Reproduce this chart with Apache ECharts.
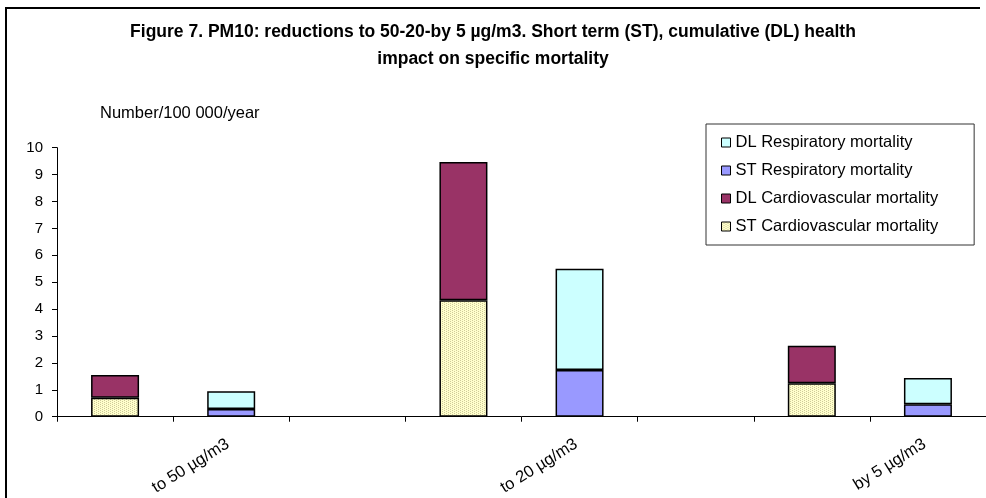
<!DOCTYPE html>
<html>
<head>
<meta charset="utf-8">
<script src="https://cdn.jsdelivr.net/npm/echarts@6/dist/echarts.min.js"></script>
<style>
  html, body { margin: 0; padding: 0; background: #fff; overflow: hidden; }
  #wrap { position: relative; width: 986px; height: 498px; overflow: hidden; }
  #chart { width: 986px; height: 498px; }
  /* chart area frame: left and top edges */
  #frameTop { position: absolute; left: 5px; top: 7px; width: 975px; height: 2px; background: #000; }
  #frameLeft { position: absolute; left: 5px; top: 7px; width: 2px; height: 491px; background: #000; }
</style>
</head>
<body>
<div id="wrap">
  <div id="chart"></div>
  <div id="frameTop"></div>
  <div id="frameLeft"></div>
</div>
<script>
// 8 slots on the category axis, labels only under the respiratory bar of each group
var categories = ['', 'to 50 µg/m3', '', '', 'to 20 µg/m3', '', '', 'by 5 µg/m3']
var stCardio = [0.71, '-', '-', 4.33, '-', '-', 1.24, '-']
var dlCardio = [0.84, '-', '-', 5.14, '-', '-', 1.40, '-']
var stResp = ['-', 0.29, '-', '-', 1.74, '-', '-', 0.46]
var dlResp = ['-', 0.66, '-', '-', 3.76, '-', '-', 0.98]

var font = "'Liberation Sans', Arial, sans-serif"

// dotted pale yellow fill like the excel pattern
function dotPattern() {
  var c = document.createElement('canvas')
  c.width = 4
  c.height = 2
  var ctx = c.getContext('2d')
  ctx.fillStyle = '#FFFFCC'
  ctx.fillRect(0, 0, 4, 2)
  ctx.fillStyle = '#CFCB9A'
  ctx.fillRect(0, 0, 1, 1)
  ctx.fillRect(2, 1, 1, 1)
  return c
}

var chart = echarts.init(document.getElementById('chart'))

function bar(name, data, color) {
  return {
    name: name,
    type: 'bar',
    stack: 'all',
    data: data,
    barWidth: 48,
    itemStyle: {
      color: color,
      borderColor: '#000',
      borderWidth: 1.5
    },
    animation: false
  }
}

chart.setOption({
  backgroundColor: '#fff',
  title: {
    text: 'Figure 7. PM10: reductions to 50-20-by 5 µg/m3. Short term (ST), cumulative (DL) health\nimpact on specific mortality',
    left: 'center',
    top: 14,
    textStyle: {
      fontFamily: font,
      fontSize: 17.5,
      fontWeight: 'bold',
      color: '#000',
      lineHeight: 27
    }
  },
  legend: {
    orient: 'vertical',
    left: 706,
    top: 124,
    padding: [10, 36, 10, 15],
    itemGap: 11,
    itemWidth: 9,
    itemHeight: 9,
    icon: 'rect',
    borderColor: '#333',
    borderWidth: 1,
    backgroundColor: '#fff',
    data: ['DL Respiratory mortality', 'ST Respiratory mortality', 'DL Cardiovascular mortality', 'ST Cardiovascular mortality'],
    textStyle: { fontFamily: font, fontSize: 16.5, color: '#000' },
    itemStyle: { borderColor: '#000', borderWidth: 1 }
  },
  grid: {
    left: 57,
    right: -7,
    top: 147.7,
    bottom: 81
  },
  xAxis: {
    type: 'category',
    data: categories,
    axisLine: { lineStyle: { color: '#000', width: 1 } },
    axisTick: { show: true, interval: 0, length: 5, lineStyle: { color: '#000' } },
    axisLabel: {
      interval: 0,
      rotate: 32,
      margin: 24,
      fontFamily: font,
      fontSize: 16.5,
      color: '#000',
      padding: [0, 4, 0, 0]
    }
  },
  yAxis: {
    type: 'value',
    min: 0,
    max: 10,
    interval: 1,
    name: 'Number/100 000/year',
    nameLocation: 'end',
    nameGap: 26,
    nameTextStyle: { fontFamily: font, fontSize: 16.5, color: '#000', align: 'left', padding: [0, 0, 0, 43] },
    splitLine: { show: false },
    axisLine: { show: true, lineStyle: { color: '#000', width: 1 } },
    axisTick: { show: true, length: 5, lineStyle: { color: '#000' } },
    axisLabel: { margin: 14, fontFamily: font, fontSize: 15, color: '#000' }
  },
  series: [
    bar('ST Cardiovascular mortality', stCardio, { image: dotPattern(), repeat: 'repeat' }),
    bar('DL Cardiovascular mortality', dlCardio, '#993366'),
    bar('ST Respiratory mortality', stResp, '#9999FF'),
    bar('DL Respiratory mortality', dlResp, '#CCFFFF')
  ]
})
</script>
</body>
</html>
